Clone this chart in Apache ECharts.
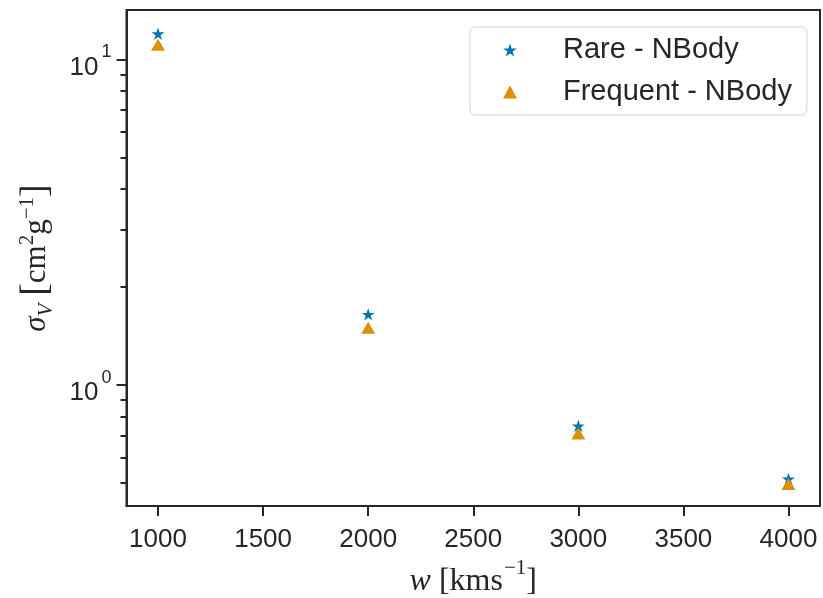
<!DOCTYPE html>
<html>
<head>
<meta charset="utf-8">
<script src="https://cdn.jsdelivr.net/npm/echarts@6/dist/echarts.min.js"></script>
<style>
  html, body { margin: 0; padding: 0; background: #ffffff; }
  #chart { width: 823px; height: 598px; }
</style>
</head>
<body>
<div id="chart"></div>
<script>
// Velocity grid (km/s) and fitted cross sections (cm^2/g)
const velocities = [1000, 2000, 3000, 4000];
const rareNBody = [12.0, 1.65, 0.75, 0.515];
const frequentNBody = [11.1, 1.50, 0.71, 0.497];

const seriesNames = ['Rare - NBody', 'Frequent - NBody'];
const xTickValues = [1000, 1500, 2000, 2500, 3000, 3500, 4000];
const yMajorTicks = [1, 10];
const yMinorTicks = [0.5, 0.6, 0.7, 0.8, 0.9, 2, 3, 4, 5, 6, 7, 8, 9];

const xRange = [850, 4150];
const yRange = [0.4256, 14.19];

const INK = '#262626';
const BLUE = '#0173b2';
const ORANGE = '#de8f05';

// Five-pointed star symbol path
function starPath() {
  const R = 50, r = 50 * 0.381966, pts = [];
  for (let i = 0; i < 10; i++) {
    const a = -Math.PI / 2 + i * Math.PI / 5;
    const rad = i % 2 === 0 ? R : r;
    pts.push((50 + rad * Math.cos(a)).toFixed(2) + ',' + (50 + rad * Math.sin(a)).toFixed(2));
  }
  return 'path://M' + pts.join('L') + 'Z';
}
const STAR = starPath();

const chart = echarts.init(document.getElementById('chart'), null, { renderer: 'canvas' });

const serif = 'Liberation Serif';
const sans = 'Liberation Sans';

chart.setOption({
  animation: false,
  backgroundColor: '#ffffff',
  grid: {
    left: 126.5, top: 10, right: 3, bottom: 92,
    outerBoundsMode: 'none',
    containLabel: false,
    show: true, borderColor: INK, borderWidth: 2, backgroundColor: 'transparent'
  },
  legend: {
    orient: 'vertical',
    left: 470, top: 27,
    data: seriesNames,
    itemWidth: 14, itemHeight: 13,
    itemGap: 12,
    padding: [8, 15, 8, 33],
    backgroundColor: '#ffffff',
    borderColor: '#d4d4d4', borderWidth: 1, borderRadius: 5,
    textStyle: { color: INK, fontSize: 29, fontFamily: sans, lineHeight: 30, padding: [0, 0, 0, 41] }
  },
  xAxis: {
    type: 'value',
    min: xRange[0], max: xRange[1],
    splitLine: { show: false },
    axisLine: { show: true, lineStyle: { color: INK, width: 2 } },
    axisTick: { show: true, length: 10, lineStyle: { color: INK, width: 2 }, customValues: xTickValues },
    axisLabel: {
      color: INK, fontSize: 26, fontFamily: sans, margin: 21,
      customValues: xTickValues,
      formatter: function (v) { return String(v); }
    },
    name: '{i|w}{t| [kms}{sup|−1}{t|]}',
    nameLocation: 'middle',
    nameGap: 46,
    nameTextStyle: {
      rich: {
        i: { fontFamily: serif, fontStyle: 'italic', fontSize: 32, color: INK, lineHeight: 40, verticalAlign: 'bottom' },
        t: { fontFamily: serif, fontSize: 32, color: INK, lineHeight: 40, verticalAlign: 'bottom' },
        sup: { fontFamily: serif, fontSize: 21, color: INK, lineHeight: 40, verticalAlign: 'top', padding: [0, 0, 0, 1] }
      }
    }
  },
  yAxis: [
    {
      type: 'log', logBase: 10,
      min: yRange[0], max: yRange[1],
      position: 'left',
      splitLine: { show: false },
      axisLine: { show: true, lineStyle: { color: INK, width: 2 } },
      axisTick: { show: true, length: 10, lineStyle: { color: INK, width: 2 }, customValues: yMajorTicks },
      axisLabel: {
        customValues: yMajorTicks,
        margin: 15,
        formatter: function (v) {
          return '{b|10}{e|' + Math.round(Math.log10(v)) + '}';
        },
        rich: {
          b: { fontSize: 26, fontFamily: sans, color: INK, lineHeight: 42, verticalAlign: 'bottom' },
          e: { fontSize: 18, fontFamily: sans, color: INK, lineHeight: 42, verticalAlign: 'top', padding: [5, 0, 0, 3] }
        }
      },
      name: '{i|σ}{sub|V}{t| }{br|[}{t|cm}{sup|2}{t|g}{sup|−1}{br|]}',
      nameLocation: 'middle',
      nameRotate: 90,
      nameGap: 70,
      nameTextStyle: {
        rich: {
          i: { fontFamily: serif, fontStyle: 'italic', fontSize: 31, color: INK, lineHeight: 40, verticalAlign: 'middle' },
          sub: { fontFamily: serif, fontStyle: 'italic', fontSize: 21, color: INK, lineHeight: 40, verticalAlign: 'bottom' },
          t: { fontFamily: serif, fontSize: 31, color: INK, lineHeight: 40, verticalAlign: 'middle' },
          br: { fontFamily: serif, fontSize: 38, color: INK, lineHeight: 40, verticalAlign: 'middle' },
          sup: { fontFamily: serif, fontSize: 21, color: INK, lineHeight: 40, verticalAlign: 'top' }
        }
      }
    },
    {
      // minor log ticks
      type: 'log', logBase: 10,
      min: yRange[0], max: yRange[1],
      position: 'left',
      splitLine: { show: false },
      axisLine: { show: false },
      axisTick: { show: true, length: 6, lineStyle: { color: INK, width: 2 }, customValues: yMinorTicks },
      axisLabel: { show: false }
    }
  ],
  series: [
    {
      name: seriesNames[0],
      type: 'scatter',
      yAxisIndex: 0,
      symbol: STAR,
      symbolSize: [13, 12.4],
      itemStyle: { color: BLUE, opacity: 1 },
      data: velocities.map((v, i) => [v, rareNBody[i]])
    },
    {
      name: seriesNames[1],
      type: 'scatter',
      yAxisIndex: 0,
      symbol: 'triangle',
      symbolSize: [14, 12],
      itemStyle: { color: ORANGE, opacity: 1 },
      data: velocities.map((v, i) => [v, frequentNBody[i]])
    }
  ]
});
</script>
</body>
</html>
